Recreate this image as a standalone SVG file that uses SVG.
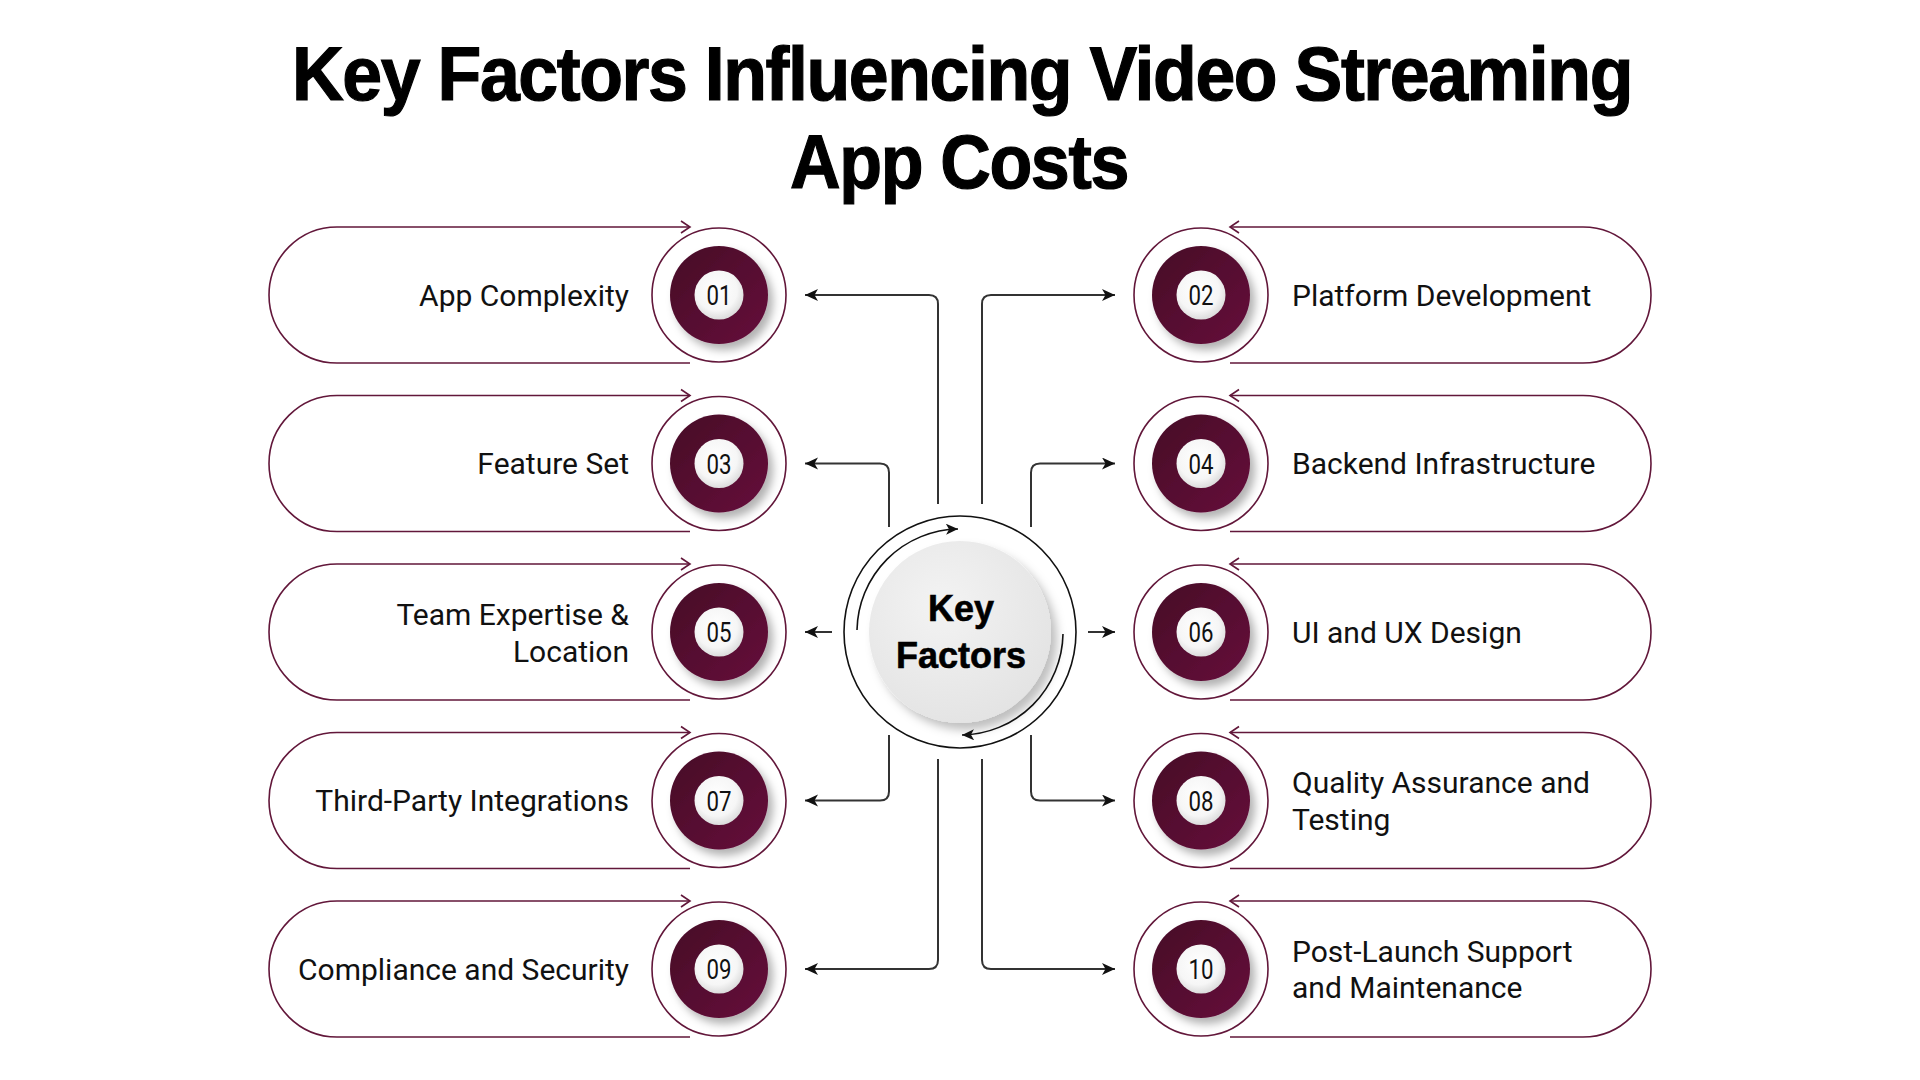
<svg xmlns="http://www.w3.org/2000/svg" width="1920" height="1080" viewBox="0 0 1920 1080">
<defs>
<style>
.title{font-family:"Liberation Sans",Arial,sans-serif;font-weight:bold;font-size:76px;letter-spacing:-1.5px;fill:#000;stroke:#000;stroke-width:1.2}
.lbl{font-family:Roboto,"Liberation Sans",sans-serif;font-size:30px;fill:#111}
.num{font-family:Roboto,"Liberation Sans",sans-serif;font-size:28px;fill:#111;text-anchor:middle}
.pill{fill:#fff;stroke:#62173a;stroke-width:1.6}
.chev{fill:none;stroke:#62173a;stroke-width:1.6}
.ring{fill:#fff;stroke:#62173a;stroke-width:1.6}
.dark{fill:url(#gDark);filter:url(#sh)}
.inner{fill:url(#gWhite)}
.conn{fill:none;stroke:#333;stroke-width:2;marker-end:url(#arr)}
.ctr{font-family:"Liberation Sans",Arial,sans-serif;font-weight:bold;font-size:36px;fill:#000;stroke:#000;stroke-width:0.6;text-anchor:middle}
</style>
<linearGradient id="gDark" x1="0" y1="0" x2="1" y2="1">
<stop offset="0" stop-color="#470726"/>
<stop offset="1" stop-color="#650d3b"/>
</linearGradient>
<radialGradient id="gWhite" cx="0.45" cy="0.4" r="0.6">
<stop offset="0" stop-color="#ffffff"/>
<stop offset="0.7" stop-color="#f6f6f6"/>
<stop offset="1" stop-color="#dcdcdc"/>
</radialGradient>
<radialGradient id="gGray" cx="0.4" cy="0.35" r="0.7">
<stop offset="0" stop-color="#f3f3f3"/>
<stop offset="1" stop-color="#e3e3e3"/>
</radialGradient>
<filter id="sh" x="-30%" y="-30%" width="170%" height="170%">
<feDropShadow dx="5" dy="6" stdDeviation="4" flood-color="#000" flood-opacity="0.3"/>
</filter>
<filter id="sh2" x="-30%" y="-30%" width="170%" height="170%">
<feDropShadow dx="6" dy="7" stdDeviation="5" flood-color="#000" flood-opacity="0.25"/>
</filter>
<marker id="arr" markerUnits="userSpaceOnUse" markerWidth="16" markerHeight="14" refX="13" refY="6" orient="auto">
<path d="M0,0 L13,6 L0,12 L3.5,6 Z" fill="#111"/>
</marker>
<marker id="arr2" markerUnits="userSpaceOnUse" markerWidth="16" markerHeight="14" refX="12" refY="5.5" orient="auto">
<path d="M0,0 L12,5.5 L0,11 L3,5.5 Z" fill="#111"/>
</marker>
</defs>
<rect width="1920" height="1080" fill="#fff"/>

<g id="title">
<text class="title" x="962" y="100" text-anchor="middle" textLength="1340" lengthAdjust="spacingAndGlyphs">Key Factors Influencing Video Streaming</text>
<text class="title" x="959" y="188" text-anchor="middle" textLength="338" lengthAdjust="spacingAndGlyphs">App Costs</text>
</g>

<g id="connectors">
<path class="conn" d="M938,504 V304 Q938,295 929,295 H805"/>
<path class="conn" d="M889,527 V472.5 Q889,463.5 880,463.5 H805"/>
<path class="conn" d="M832,632 H805"/>
<path class="conn" d="M889,735 V791.5 Q889,800.5 880,800.5 H805"/>
<path class="conn" d="M938,759 V960 Q938,969 929,969 H805"/>
<path class="conn" d="M982,504 V304 Q982,295 991,295 H1115"/>
<path class="conn" d="M1031,527 V472.5 Q1031,463.5 1040,463.5 H1115"/>
<path class="conn" d="M1088,632 H1115"/>
<path class="conn" d="M1031,735 V791.5 Q1031,800.5 1040,800.5 H1115"/>
<path class="conn" d="M982,759 V960 Q982,969 991,969 H1115"/>
</g>

<g id="center">
<circle cx="960" cy="632" r="116" fill="#fff" stroke="#111" stroke-width="1.6"/>
<circle cx="960" cy="632" r="91" fill="url(#gGray)" filter="url(#sh2)"/>
<path d="M857,630 A103,103 0 0 1 958,529" fill="none" stroke="#111" stroke-width="1.6" marker-end="url(#arr2)"/>
<path d="M1063,634 A103,103 0 0 1 962,735" fill="none" stroke="#111" stroke-width="1.6" marker-end="url(#arr2)"/>
<text class="ctr" x="961" y="621">Key</text>
<text class="ctr" x="961" y="668">Factors</text>
</g>

<g id="n01">
<path class="pill" d="M690,227 H337 A68,68 0 0 0 337,363 H690"/>
<path class="chev" d="M681,221 L690,227 L681,233"/>
<circle class="ring" cx="719" cy="295" r="67"/>
<circle class="dark" cx="719" cy="295" r="49"/>
<circle class="inner" cx="719" cy="295" r="24.5"/>
<text class="num" x="719" y="305" textLength="25" lengthAdjust="spacingAndGlyphs">01</text>
<text class="lbl" x="629" y="305.5" text-anchor="end">App Complexity</text>
</g>

<g id="n03">
<path class="pill" d="M690,395.5 H337 A68,68 0 0 0 337,531.5 H690"/>
<path class="chev" d="M681,389.5 L690,395.5 L681,401.5"/>
<circle class="ring" cx="719" cy="463.5" r="67"/>
<circle class="dark" cx="719" cy="463.5" r="49"/>
<circle class="inner" cx="719" cy="463.5" r="24.5"/>
<text class="num" x="719" y="473.5" textLength="25" lengthAdjust="spacingAndGlyphs">03</text>
<text class="lbl" x="629" y="474" text-anchor="end">Feature Set</text>
</g>

<g id="n05">
<path class="pill" d="M690,564 H337 A68,68 0 0 0 337,700 H690"/>
<path class="chev" d="M681,558 L690,564 L681,570"/>
<circle class="ring" cx="719" cy="632" r="67"/>
<circle class="dark" cx="719" cy="632" r="49"/>
<circle class="inner" cx="719" cy="632" r="24.5"/>
<text class="num" x="719" y="642" textLength="25" lengthAdjust="spacingAndGlyphs">05</text>
<text class="lbl" x="629" y="625" text-anchor="end">Team Expertise &amp;</text>
<text class="lbl" x="629" y="662" text-anchor="end">Location</text>
</g>

<g id="n07">
<path class="pill" d="M690,732.5 H337 A68,68 0 0 0 337,868.5 H690"/>
<path class="chev" d="M681,726.5 L690,732.5 L681,738.5"/>
<circle class="ring" cx="719" cy="800.5" r="67"/>
<circle class="dark" cx="719" cy="800.5" r="49"/>
<circle class="inner" cx="719" cy="800.5" r="24.5"/>
<text class="num" x="719" y="810.5" textLength="25" lengthAdjust="spacingAndGlyphs">07</text>
<text class="lbl" x="629" y="811" text-anchor="end">Third-Party Integrations</text>
</g>

<g id="n09">
<path class="pill" d="M690,901 H337 A68,68 0 0 0 337,1037 H690"/>
<path class="chev" d="M681,895 L690,901 L681,907"/>
<circle class="ring" cx="719" cy="969" r="67"/>
<circle class="dark" cx="719" cy="969" r="49"/>
<circle class="inner" cx="719" cy="969" r="24.5"/>
<text class="num" x="719" y="979" textLength="25" lengthAdjust="spacingAndGlyphs">09</text>
<text class="lbl" x="629" y="979.5" text-anchor="end">Compliance and Security</text>
</g>

<g id="n02">
<path class="pill" d="M1230,227 H1583 A68,68 0 0 1 1583,363 H1230"/>
<path class="chev" d="M1239,221 L1230,227 L1239,233"/>
<circle class="ring" cx="1201" cy="295" r="67"/>
<circle class="dark" cx="1201" cy="295" r="49"/>
<circle class="inner" cx="1201" cy="295" r="24.5"/>
<text class="num" x="1201" y="305" textLength="25" lengthAdjust="spacingAndGlyphs">02</text>
<text class="lbl" x="1292" y="305.5">Platform Development</text>
</g>

<g id="n04">
<path class="pill" d="M1230,395.5 H1583 A68,68 0 0 1 1583,531.5 H1230"/>
<path class="chev" d="M1239,389.5 L1230,395.5 L1239,401.5"/>
<circle class="ring" cx="1201" cy="463.5" r="67"/>
<circle class="dark" cx="1201" cy="463.5" r="49"/>
<circle class="inner" cx="1201" cy="463.5" r="24.5"/>
<text class="num" x="1201" y="473.5" textLength="25" lengthAdjust="spacingAndGlyphs">04</text>
<text class="lbl" x="1292" y="474">Backend Infrastructure</text>
</g>

<g id="n06">
<path class="pill" d="M1230,564 H1583 A68,68 0 0 1 1583,700 H1230"/>
<path class="chev" d="M1239,558 L1230,564 L1239,570"/>
<circle class="ring" cx="1201" cy="632" r="67"/>
<circle class="dark" cx="1201" cy="632" r="49"/>
<circle class="inner" cx="1201" cy="632" r="24.5"/>
<text class="num" x="1201" y="642" textLength="25" lengthAdjust="spacingAndGlyphs">06</text>
<text class="lbl" x="1292" y="642.5">UI and UX Design</text>
</g>

<g id="n08">
<path class="pill" d="M1230,732.5 H1583 A68,68 0 0 1 1583,868.5 H1230"/>
<path class="chev" d="M1239,726.5 L1230,732.5 L1239,738.5"/>
<circle class="ring" cx="1201" cy="800.5" r="67"/>
<circle class="dark" cx="1201" cy="800.5" r="49"/>
<circle class="inner" cx="1201" cy="800.5" r="24.5"/>
<text class="num" x="1201" y="810.5" textLength="25" lengthAdjust="spacingAndGlyphs">08</text>
<text class="lbl" x="1292" y="793">Quality Assurance and</text>
<text class="lbl" x="1292" y="830">Testing</text>
</g>

<g id="n10">
<path class="pill" d="M1230,901 H1583 A68,68 0 0 1 1583,1037 H1230"/>
<path class="chev" d="M1239,895 L1230,901 L1239,907"/>
<circle class="ring" cx="1201" cy="969" r="67"/>
<circle class="dark" cx="1201" cy="969" r="49"/>
<circle class="inner" cx="1201" cy="969" r="24.5"/>
<text class="num" x="1201" y="979" textLength="25" lengthAdjust="spacingAndGlyphs">10</text>
<text class="lbl" x="1292" y="962">Post-Launch Support</text>
<text class="lbl" x="1292" y="998">and Maintenance</text>
</g>
</svg>
